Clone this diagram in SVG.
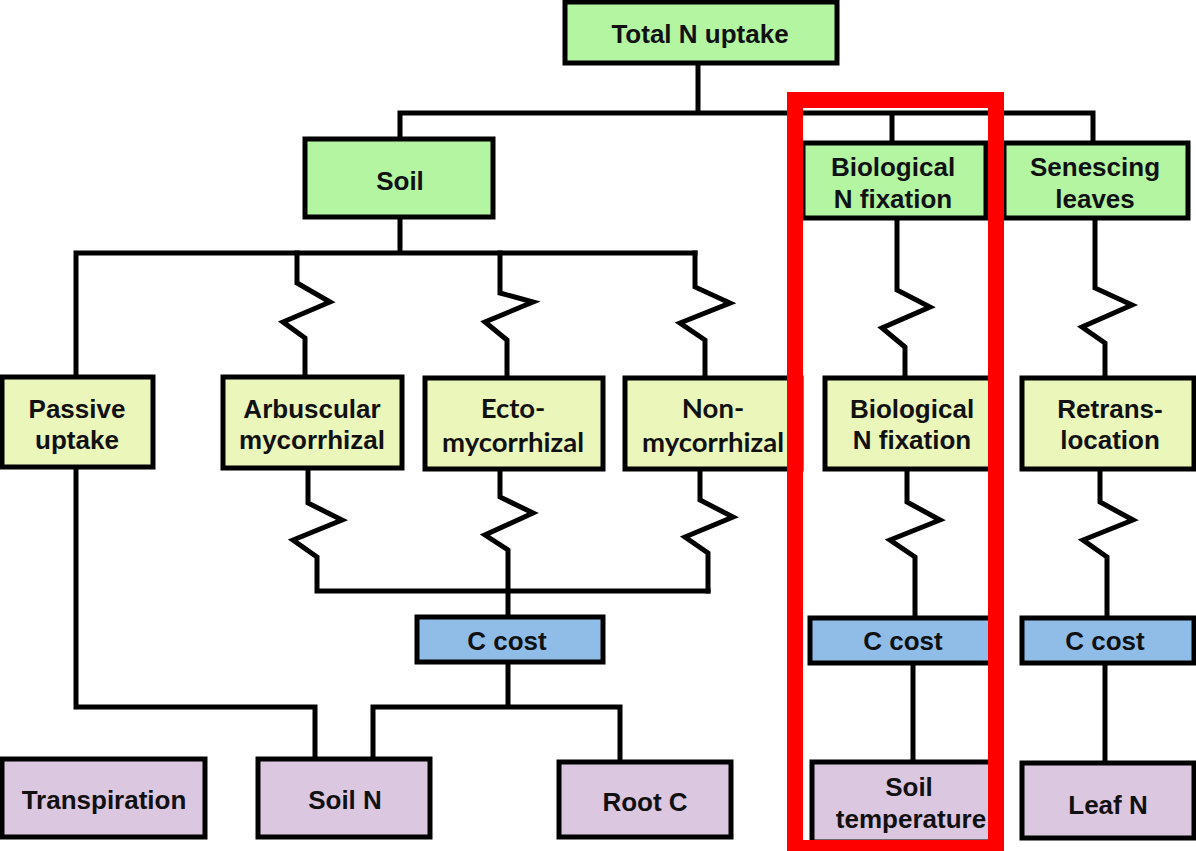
<svg xmlns="http://www.w3.org/2000/svg" width="1196" height="851" viewBox="0 0 1196 851">
<style>
.ln{fill:none;stroke:#000;stroke-width:5;stroke-linejoin:miter;stroke-linecap:square}
.bx{stroke:#000;stroke-width:5}
.g{fill:#b3f5a1}
.y{fill:#ebf6bb}
.b{fill:#8fbde8}
.p{fill:#dcc7e0}
text{font-family:"Liberation Sans",Arial,sans-serif;font-weight:bold;font-size:26px;fill:#111;text-anchor:middle}
text.c{font-family:Lato,"Liberation Sans",sans-serif;font-size:27.5px}
</style>
<rect width="1196" height="851" fill="#fff"/>
<g id="connectors">
<path class="ln" d="M698 63V113M400 113H1093M400 113V139M892 113V143M1093 113V143"/>
<path class="ln" d="M400 217V253M76 253H695M76 253V377"/>
<path class="ln" d="M297 253V283L330 302L283 322L305 338V377"/>
<path class="ln" d="M500 253V293L533 302L485 322L507 340V378"/>
<path class="ln" d="M695 253V287L730 303L680 323L705 340V378"/>
<path class="ln" d="M897 218V290L930 307L882 328L905 347V378"/>
<path class="ln" d="M1095 218V288L1132 305L1082 327L1105 343V378"/>
<path class="ln" d="M308 469V503L342 520L293 540L317 557V591H708"/>
<path class="ln" d="M500 469V497L533 513L485 535L508 550V617"/>
<path class="ln" d="M700 469V500L733 517L685 537L708 553V591"/>
<path class="ln" d="M907 469V502L940 520L890 540L915 557V618"/>
<path class="ln" d="M1100 469V502L1133 520L1083 540L1107 557V618"/>
<path class="ln" d="M76 467V707H315V759"/>
<path class="ln" d="M508 662V707M373 707H620M373 707V759M620 707V762"/>
<path class="ln" d="M913 663V762M1105 663V763"/>
</g>
<g id="n-total"><rect class="bx g" x="565" y="2" width="272" height="61"/><text x="700" y="43">Total N uptake</text></g>
<g id="n-soil"><rect class="bx g" x="305" y="139" width="188" height="78"/><text x="400" y="190">Soil</text></g>
<g id="n-bnf-top"><rect class="bx g" x="803" y="143" width="183" height="75"/><text x="893" y="176">Biological</text><text x="893" y="208">N fixation</text></g>
<g id="n-senescing"><rect class="bx g" x="1004" y="143" width="184" height="75"/><text x="1095" y="176">Senescing</text><text x="1095" y="208">leaves</text></g>
<g id="n-passive"><rect class="bx y" x="2" y="377" width="151" height="90"/><text x="77" y="418">Passive</text><text x="77" y="449">uptake</text></g>
<g id="n-arb"><rect class="bx y" x="223" y="377" width="179" height="91"/><text x="312" y="418">Arbuscular</text><text x="312" y="449">mycorrhizal</text></g>
<g id="n-ecto"><rect class="bx y" x="425" y="378" width="178" height="91"/><text class="c" x="513" y="418">Ecto-</text><text class="c" x="513" y="452">mycorrhizal</text></g>
<g id="n-nonmyc"><rect class="bx y" x="625" y="378" width="176" height="91"/><text class="c" x="713" y="418">Non-</text><text class="c" x="713" y="452">mycorrhizal</text></g>
<g id="n-bnf-mid"><rect class="bx y" x="825" y="378" width="172" height="91"/><text x="912" y="418">Biological</text><text x="912" y="449">N fixation</text></g>
<g id="n-retrans"><rect class="bx y" x="1022" y="378" width="172" height="91"/><text x="1110" y="418">Retrans-</text><text x="1110" y="449">location</text></g>
<g id="n-ccost1"><rect class="bx b" x="417" y="617" width="186" height="45"/><text x="507" y="650">C cost</text></g>
<g id="n-ccost2"><rect class="bx b" x="810" y="618" width="186" height="45"/><text x="903" y="650">C cost</text></g>
<g id="n-ccost3"><rect class="bx b" x="1022" y="618" width="172" height="45"/><text x="1105" y="650">C cost</text></g>
<g id="n-transp"><rect class="bx p" x="2" y="759" width="203" height="78"/><text x="104" y="809">Transpiration</text></g>
<g id="n-soiln"><rect class="bx p" x="258" y="759" width="172" height="78"/><text x="345" y="809">Soil N</text></g>
<g id="n-rootc"><rect class="bx p" x="559" y="762" width="172" height="75"/><text x="645" y="811">Root C</text></g>
<g id="n-soiltemp"><rect class="bx p" x="812" y="762" width="186" height="80"/><text x="909" y="796">Soil</text><text x="911" y="828">temperature</text></g>
<g id="n-leafn"><rect class="bx p" x="1022" y="763" width="172" height="75"/><text x="1108" y="814">Leaf N</text></g>
<g id="highlight"><rect x="795" y="100" width="201" height="748" fill="none" stroke="#ff0000" stroke-width="16"/></g>
</svg>
